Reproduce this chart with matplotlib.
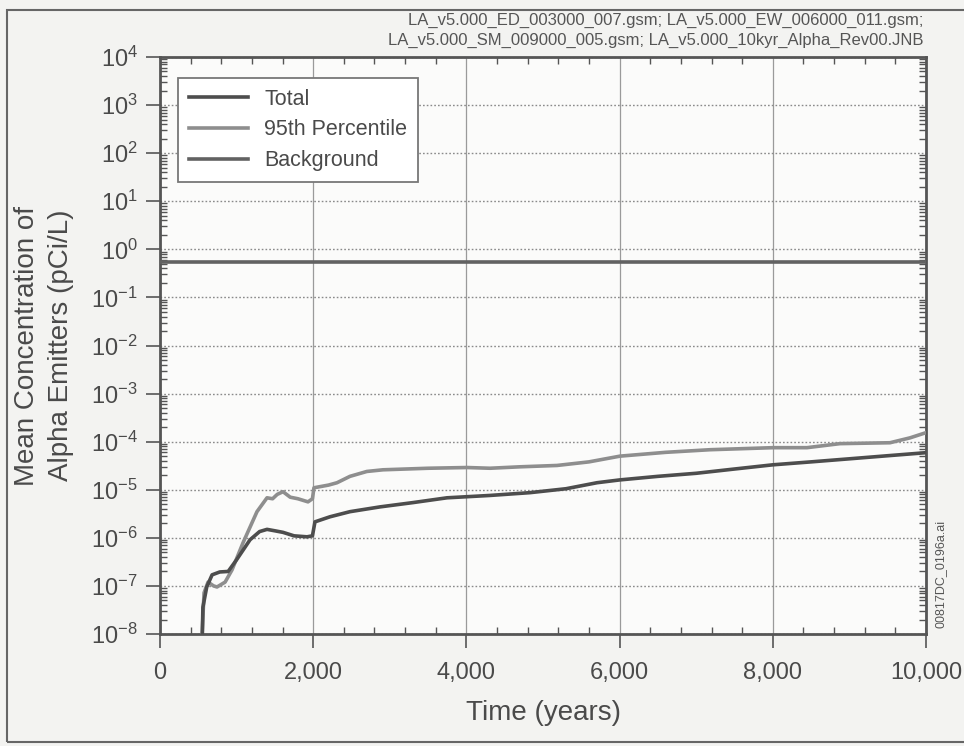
import matplotlib
matplotlib.use("Agg")
import matplotlib.pyplot as plt
from matplotlib.ticker import FixedLocator, LogLocator, NullFormatter
from matplotlib.patches import Rectangle

plt.rcParams['font.family'] = ['Liberation Sans', 'DejaVu Sans']
plt.rcParams['mathtext.fontset'] = 'custom'
plt.rcParams['mathtext.rm'] = 'Liberation Sans'
plt.rcParams['mathtext.it'] = 'Liberation Sans'
plt.rcParams['mathtext.default'] = 'regular'

# ---- data ----
t_total = [540, 560, 610, 680, 780, 890, 1000, 1175, 1300, 1397, 1500, 1606, 1750, 1919,
           1990, 2023, 2219, 2480, 2872, 3300, 3747, 4300, 4830, 5300, 5705, 6000, 6500,
           7000, 7500, 8000, 8500, 9000, 9500, 10000]
c_total = [1e-9, 3.6e-8, 9.5e-8, 1.7e-7, 1.95e-7, 2.0e-7, 3.5e-7, 9.1e-7, 1.35e-6, 1.5e-6,
           1.4e-6, 1.3e-6, 1.1e-6, 1.05e-6, 1.1e-6, 2.15e-6, 2.74e-6, 3.5e-6, 4.4e-6, 5.4e-6,
           6.8e-6, 7.6e-6, 8.7e-6, 1.05e-5, 1.4e-5, 1.6e-5, 1.9e-5, 2.2e-5, 2.7e-5, 3.3e-5,
           3.8e-5, 4.4e-5, 5.1e-5, 5.9e-5]

t_p95 = [540, 550, 575, 627, 700, 744, 850, 940, 1084, 1266, 1397, 1470, 1530, 1606, 1700,
         1800, 1932, 1990, 2010, 2200, 2311, 2480, 2700, 2911, 3500, 4008, 4308, 4700, 5183,
         5600, 6005, 6600, 7180, 8003, 8446, 8877, 9530, 9791, 10000]
c_p95 = [1e-9, 1e-8, 7.2e-8, 1.2e-7, 1.0e-7, 9.5e-8, 1.2e-7, 2.15e-7, 7.9e-7, 3.5e-6, 6.8e-6,
         6.5e-6, 8.0e-6, 9.1e-6, 7.0e-6, 6.5e-6, 5.6e-6, 6.5e-6, 1.1e-5, 1.25e-5, 1.4e-5,
         1.9e-5, 2.4e-5, 2.6e-5, 2.8e-5, 2.9e-5, 2.8e-5, 3.0e-5, 3.2e-5, 3.8e-5, 5.0e-5,
         6.0e-5, 6.8e-5, 7.5e-5, 7.5e-5, 9.1e-5, 9.5e-5, 1.2e-4, 1.54e-4]

t_bg = [0, 10000]
c_bg = [0.55, 0.55]

x_major = [0, 2000, 4000, 6000, 8000, 10000]
x_labels = ['0', '2,000', '4,000', '6,000', '8,000', '10,000']
y_exponents = [-8, -7, -6, -5, -4, -3, -2, -1, 0, 1, 2, 3, 4]

series_labels = ['Total', '95th Percentile', 'Background']

# ---- figure ----
fig = plt.figure(figsize=(9.64, 7.46), dpi=100, facecolor='#f3f3f1')
ax = fig.add_axes([160/964, 1-634/746, 766/964, 577/746])
ax.set_facecolor('#fbfbfa')

txt = '#4a4a4a'
ax.plot(t_total, c_total, color='#4d4d4d', lw=2.6, label=series_labels[0], zorder=4)
ax.plot(t_p95, c_p95, color='#8e8e8e', lw=2.6, label=series_labels[1], zorder=3)
ax.plot(t_bg, c_bg, color='#626262', lw=2.6, label=series_labels[2], zorder=3)

ax.set_yscale('log')
ax.set_xlim(0, 10000)
ax.set_ylim(1e-8, 1e4)

ax.xaxis.set_major_locator(FixedLocator(x_major))
ax.set_xticklabels(x_labels)
ax.xaxis.set_minor_locator(FixedLocator([v for v in range(0, 10001, 400) if v % 2000]))
yt = [10.0**e for e in y_exponents]
ax.yaxis.set_major_locator(FixedLocator(yt))
ax.set_yticklabels(['$10^{%d}$' % e for e in y_exponents])
ax.yaxis.set_minor_locator(LogLocator(base=10, subs=range(2, 10), numticks=50))
ax.yaxis.set_minor_formatter(NullFormatter())

ax.tick_params(which='major', direction='out', length=10, width=1.2, color='#555555',
               labelsize=17, labelcolor=txt, pad=6, top=False, right=False)
ax.tick_params(which='minor', direction='in', length=5, width=1.0, color='#555555',
               top=True, right=True)
ax.tick_params(axis='x', which='major', pad=10)

for s in ax.spines.values():
    s.set_linewidth(2.0)
    s.set_color('#555555')

ax.grid(True, axis='x', which='major', color='#9a9a9a', lw=0.9, ls='-')
ax.grid(True, axis='y', which='major', color='#8a8a8a', lw=1.0, ls=(0, (1.2, 1.5)))

ax.set_xlabel('Time (years)', fontsize=20, color=txt, labelpad=12)
ax.set_ylabel('Mean Concentration of\nAlpha Emitters (pCi/L)', fontsize=20, color=txt,
              labelpad=12, linespacing=1.4)

leg = ax.legend(loc='upper left', bbox_to_anchor=(18/766, 1-21/577), borderaxespad=0,
                fontsize=15.5, handlelength=2.75, handletextpad=0.75, labelspacing=0.45,
                borderpad=0.5, fancybox=False, framealpha=1, edgecolor='#777777')
leg.get_frame().set_linewidth(1.3)
for t in leg.get_texts():
    t.set_color(txt)

fig.text(923/964, 1-20/746,
         'LA_v5.000_ED_003000_007.gsm; LA_v5.000_EW_006000_011.gsm;',
         ha='right', va='center', fontsize=12, color='#555555')
fig.text(923/964, 1-40/746,
         'LA_v5.000_SM_009000_005.gsm; LA_v5.000_10kyr_Alpha_Rev00.JNB',
         ha='right', va='center', fontsize=12, color='#555555')
fig.text(941/964, 1-574/746, '00817DC_0196a.ai', rotation=90, ha='center', va='center',
         fontsize=9, color='#555555')

fig.patches.append(Rectangle((7/964, 1-742/746), 970/964, 732/746, transform=fig.transFigure,
                             fill=False, edgecolor='#666666', lw=1.5))

fig.savefig('out.png', dpi=100, facecolor=fig.get_facecolor())
